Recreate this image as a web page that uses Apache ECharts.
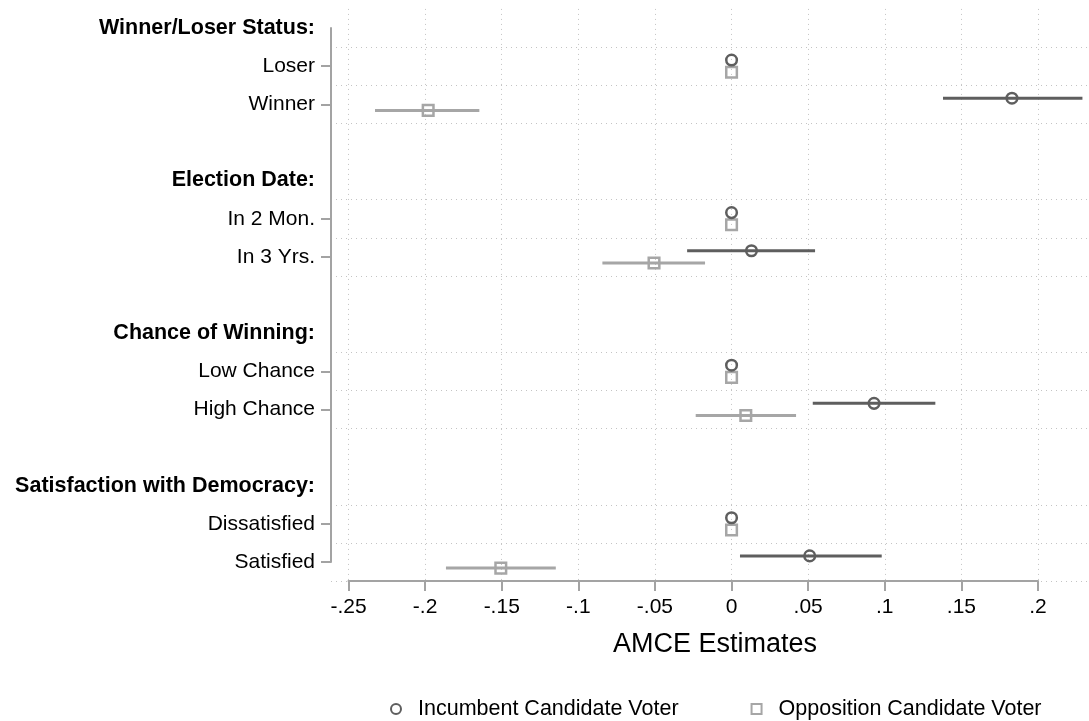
<!DOCTYPE html>
<html>
<head>
<meta charset="utf-8">
<script src="https://cdn.jsdelivr.net/npm/echarts@6/dist/echarts.min.js"></script>
<style>
html,body{margin:0;padding:0;background:#fff;}
#chart{width:1089px;height:721px;}
</style>
</head>
<body>
<div id="chart"></div>
<script>
// ---- data ----
const groups = ['Winner/Loser Status:', 'Election Date:', 'Chance of Winning:', 'Satisfaction with Democracy:'];
const levels = ['Loser', 'Winner', 'In 2 Mon.', 'In 3 Yrs.', 'Low Chance', 'High Chance', 'Dissatisfied', 'Satisfied'];
const incEst = [0, 0.183, 0, 0.013, 0, 0.093, 0, 0.051];
const incLo  = [0, 0.138, 0, -0.029, 0, 0.053, 0, 0.0055];
const incHi  = [0, 0.229, 0, 0.0545, 0, 0.133, 0, 0.098];
const oppEst = [0, -0.198, 0, -0.0506, 0, 0.0093, 0, -0.1506];
const oppLo  = [0, -0.2327, 0, -0.0843, 0, -0.0234, 0, -0.1864];
const oppHi  = [0, -0.1646, 0, -0.0173, 0, 0.0421, 0, -0.1147];
const seriesNames = ['Incumbent Candidate Voter', 'Opposition Candidate Voter'];
const xTicks = [-0.25, 0.2, 0.05]; // min, max, step
const xTitle = 'AMCE Estimates';

// ---- build rows ----
const rows = [];
const levelRow = [];
groups.forEach((g, gi) => {
  rows.push(g);
  for (let k = 0; k < 2; k++) { levelRow.push(rows.length); rows.push(levels[gi * 2 + k]); }
  if (gi < groups.length - 1) rows.push(' '.repeat(gi + 1));
});
const incData = levels.map((l, i) => [levelRow[i], incEst[i], incLo[i], incHi[i]]);
const oppData = levels.map((l, i) => [levelRow[i], oppEst[i], oppLo[i], oppHi[i]]);

const COL_INC = '#5e5e5e';
const COL_OPP = '#a6a6a6';
const AX = '#a3a3a3';
const GRIDC = '#c4c4c4';
const FONT = 'Liberation Sans, Arial, Helvetica, sans-serif';

function makeRender(color, shape, dir) {
  return function (params, api) {
    const cat = api.value(0);
    const off = dir * api.size([0, 1])[1] * 0.16;
    const pe = api.coord([api.value(1), cat]);
    const pl = api.coord([api.value(2), cat]);
    const ph = api.coord([api.value(3), cat]);
    const y = pe[1] + off;
    const children = [];
    if (ph[0] - pl[0] > 0.5) {
      children.push({ type: 'line', shape: { x1: pl[0], y1: y, x2: ph[0], y2: y },
        style: { stroke: color, lineWidth: 3 } });
    }
    if (shape === 'circle') {
      children.push({ type: 'circle', shape: { cx: pe[0], cy: y, r: 5.3 },
        style: { fill: 'rgba(255,255,255,0)', stroke: color, lineWidth: 2.5 } });
    } else {
      children.push({ type: 'rect', shape: { x: pe[0] - 5.3, y: y - 5.3, width: 10.6, height: 10.6 },
        style: { fill: 'rgba(255,255,255,0)', stroke: color, lineWidth: 2.5 } });
    }
    return { type: 'group', children: children };
  };
}

const chart = echarts.init(document.getElementById('chart'), null, { renderer: 'canvas' });
const band = 38.143;
const option = {
  backgroundColor: '#fff',
  animation: false,
  textStyle: { fontFamily: FONT },
  grid: [
    { left: 331, right: 2, top: 28, bottom: 721 - 562 },
    { left: 331, right: 2, top: 28 - band / 2, bottom: 721 - 562 - band / 2 },
    { left: 348.5, right: 1089 - 1038, top: 28 - band / 2, bottom: 721 - 562 - band / 2 }
  ],
  xAxis: [
    { gridIndex: 0, type: 'value', show: false },
    { gridIndex: 1, type: 'value', show: true,
      axisLine: { show: false }, axisTick: { show: false }, axisLabel: { show: false },
      splitLine: { show: false },
      name: xTitle, nameLocation: 'middle', nameGap: 50,
      nameTextStyle: { color: '#000', fontSize: 27, fontFamily: FONT, padding: [0, 0, 0, 12] } },
    { gridIndex: 2, type: 'value', min: xTicks[0], max: xTicks[1], interval: xTicks[2],
      axisLine: { show: true, onZero: false, lineStyle: { color: AX, width: 2 } },
      axisTick: { show: true, length: 10, lineStyle: { color: AX, width: 2 } },
      axisLabel: { color: '#000', fontSize: 21, fontFamily: FONT, margin: 16,
        formatter: v => { const r = Math.round(v * 100) / 100; if (r === 0) return '0';
          return (r < 0 ? '-' : '') + String(Math.abs(r)).replace(/^0/, ''); } },
      splitLine: { show: true, lineStyle: { color: GRIDC, type: [1, 4], width: 1 } } }
  ],
  yAxis: [
    { gridIndex: 0, type: 'category', data: rows, inverse: true, boundaryGap: false,
      axisLine: { show: true, lineStyle: { color: AX, width: 2 } },
      axisTick: { show: true, length: 10, lineStyle: { color: AX, width: 2 },
        interval: (i, v) => levels.indexOf(v) >= 0 },
      axisLabel: { interval: 0, margin: 16, color: '#000', fontSize: 21, fontFamily: FONT,
        formatter: v => groups.indexOf(v) >= 0 ? '{b|' + v + '}' : v,
        rich: { b: { fontWeight: 'bold', fontSize: 21.5, color: '#000', fontFamily: FONT } } },
      splitLine: { show: false } },
    { gridIndex: 1, type: 'category', data: rows, inverse: true, boundaryGap: true,
      axisLine: { show: false }, axisTick: { show: false }, axisLabel: { show: false },
      splitLine: { show: true, interval: (i) => i % 4 !== 0,
        lineStyle: { color: GRIDC, type: [1, 4], width: 1 } } },
    { gridIndex: 2, type: 'category', data: rows, inverse: true, boundaryGap: true, show: false }
  ],
  legend: {
    left: 385, top: 693, itemWidth: 10, itemHeight: 10, itemGap: 72,
    textStyle: { fontSize: 21.5, color: '#000', fontFamily: FONT, padding: [0, 0, 0, 12] },
    data: [
      { name: seriesNames[0], icon: 'circle', itemStyle: { color: '#fff', borderColor: COL_INC, borderWidth: 2 } },
      { name: seriesNames[1], icon: 'rect', itemStyle: { color: '#fff', borderColor: COL_OPP, borderWidth: 2 } }
    ]
  },
  series: [
    { name: seriesNames[0], type: 'custom', xAxisIndex: 2, yAxisIndex: 2, clip: false,
      itemStyle: { color: COL_INC }, encode: { x: [1, 2, 3], y: 0 },
      renderItem: makeRender(COL_INC, 'circle', -1), data: incData, z: 5 },
    { name: seriesNames[1], type: 'custom', xAxisIndex: 2, yAxisIndex: 2, clip: false,
      itemStyle: { color: COL_OPP }, encode: { x: [1, 2, 3], y: 0 },
      renderItem: makeRender(COL_OPP, 'rect', 1), data: oppData, z: 4 }
  ]
};
chart.setOption(option);
</script>
</body>
</html>
